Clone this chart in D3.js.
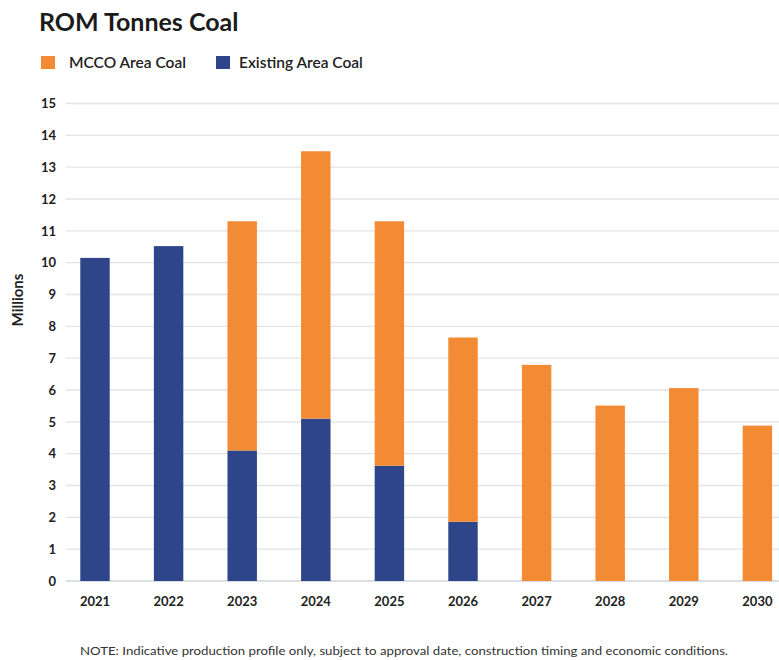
<!DOCTYPE html>
<html>
<head>
<meta charset="utf-8">
<script src="https://cdn.jsdelivr.net/npm/d3@7"></script>
<style>
  body { margin: 0; background: #fff; }
  svg { display: block; font-family: Lato, "Open Sans", sans-serif; }
</style>
</head>
<body>
<div id="chart"></div>
<script>
const years = ["2021", "2022", "2023", "2024", "2025", "2026", "2027", "2028", "2029", "2030"];
const existing = [10.15, 10.52, 4.1, 5.1, 3.62, 1.86, 0, 0, 0, 0];
const mcco = [0, 0, 7.2, 8.4, 7.68, 5.79, 6.79, 5.51, 6.06, 4.88];
const yTicks = d3.range(0, 16);
const seriesNames = ["MCCO Area Coal", "Existing Area Coal"];
const colors = { existing: "#2e4589", mcco: "#f38b35" };

const width = 779;
const height = 660;

const data = years.map((y, i) => ({ year: y, existing: existing[i], mcco: mcco[i] }));
const stacked = d3.stack().keys(["existing", "mcco"])(data);

const x = d3.scaleBand()
  .domain(years)
  .range([58.2, 794.2])
  .paddingInner(0.6)
  .paddingOuter(0.3);

const y = d3.scaleLinear().domain([0, 15]).range([581, 103.5]);

const svg = d3.select("#chart")
  .append("svg")
  .attr("width", width)
  .attr("height", height)
  .attr("viewBox", [0, 0, width, height]);

// title
svg.append("text")
  .attr("x", 39)
  .attr("y", 31)
  .attr("font-size", 25)
  .attr("font-weight", 700)
  .attr("fill", "#1b1b1b")
  .text("ROM Tonnes Coal");

// legend
const legend = svg.append("g").attr("class", "legend");
const legendItems = [
  { name: seriesNames[0], color: colors.mcco, x: 41, tx: 69 },
  { name: seriesNames[1], color: colors.existing, x: 216, tx: 239 },
];
legend.selectAll("rect")
  .data(legendItems)
  .join("rect")
  .attr("x", (d) => d.x)
  .attr("y", 56)
  .attr("width", 14)
  .attr("height", 13)
  .attr("fill", (d) => d.color);
legend.selectAll("text")
  .data(legendItems)
  .join("text")
  .attr("x", (d) => d.tx)
  .attr("y", 68)
  .attr("font-size", 15.5)
  .attr("font-weight", 600)
  .attr("fill", "#222")
  .text((d) => d.name);

// grid
svg.append("g")
  .attr("class", "grid")
  .selectAll("line")
  .data(yTicks)
  .join("line")
  .attr("x1", 66)
  .attr("x2", width)
  .attr("y1", (d) => y(d))
  .attr("y2", (d) => y(d))
  .attr("stroke", (d) => (d === 0 ? "#cfd3da" : "#e3e3e3"))
  .attr("stroke-width", 1.4);

// y axis labels
const yAxis = svg.append("g")
  .attr("transform", "translate(56,0)")
  .call(d3.axisLeft(y).tickValues(yTicks).tickSize(0).tickPadding(0));
yAxis.select(".domain").remove();
yAxis.selectAll("text")
  .attr("font-family", "Lato, sans-serif")
  .attr("font-size", 13)
  .attr("font-weight", 700)
  .attr("fill", "#222");

svg.append("text")
  .attr("transform", "translate(23,300) rotate(-90)")
  .attr("text-anchor", "middle")
  .attr("font-size", 15)
  .attr("font-weight", 700)
  .attr("fill", "#222")
  .text("Millions");

// bars
svg.append("g")
  .selectAll("g")
  .data(stacked)
  .join("g")
  .attr("fill", (s) => colors[s.key])
  .selectAll("rect")
  .data((s) => s.filter((d) => d[1] > d[0]))
  .join("rect")
  .attr("x", (d) => x(d.data.year))
  .attr("width", x.bandwidth())
  .attr("y", (d) => y(d[1]))
  .attr("height", (d) => y(d[0]) - y(d[1]));

// x axis labels
const xAxis = svg.append("g")
  .attr("transform", "translate(0,597)")
  .call(d3.axisBottom(x).tickSize(0).tickPadding(0));
xAxis.select(".domain").remove();
xAxis.selectAll("text")
  .attr("font-family", "Lato, sans-serif")
  .attr("font-size", 13)
  .attr("font-weight", 700)
  .attr("fill", "#222");

// note
svg.append("text")
  .attr("x", 80)
  .attr("y", 655)
  .attr("font-family", "Lato, sans-serif")
  .attr("font-size", 11.5)
  .attr("fill", "#333")
  .attr("textLength", 648)
  .attr("lengthAdjust", "spacingAndGlyphs")
  .text("NOTE: Indicative production profile only, subject to approval date, construction timing and economic conditions.");
</script>
</body>
</html>
